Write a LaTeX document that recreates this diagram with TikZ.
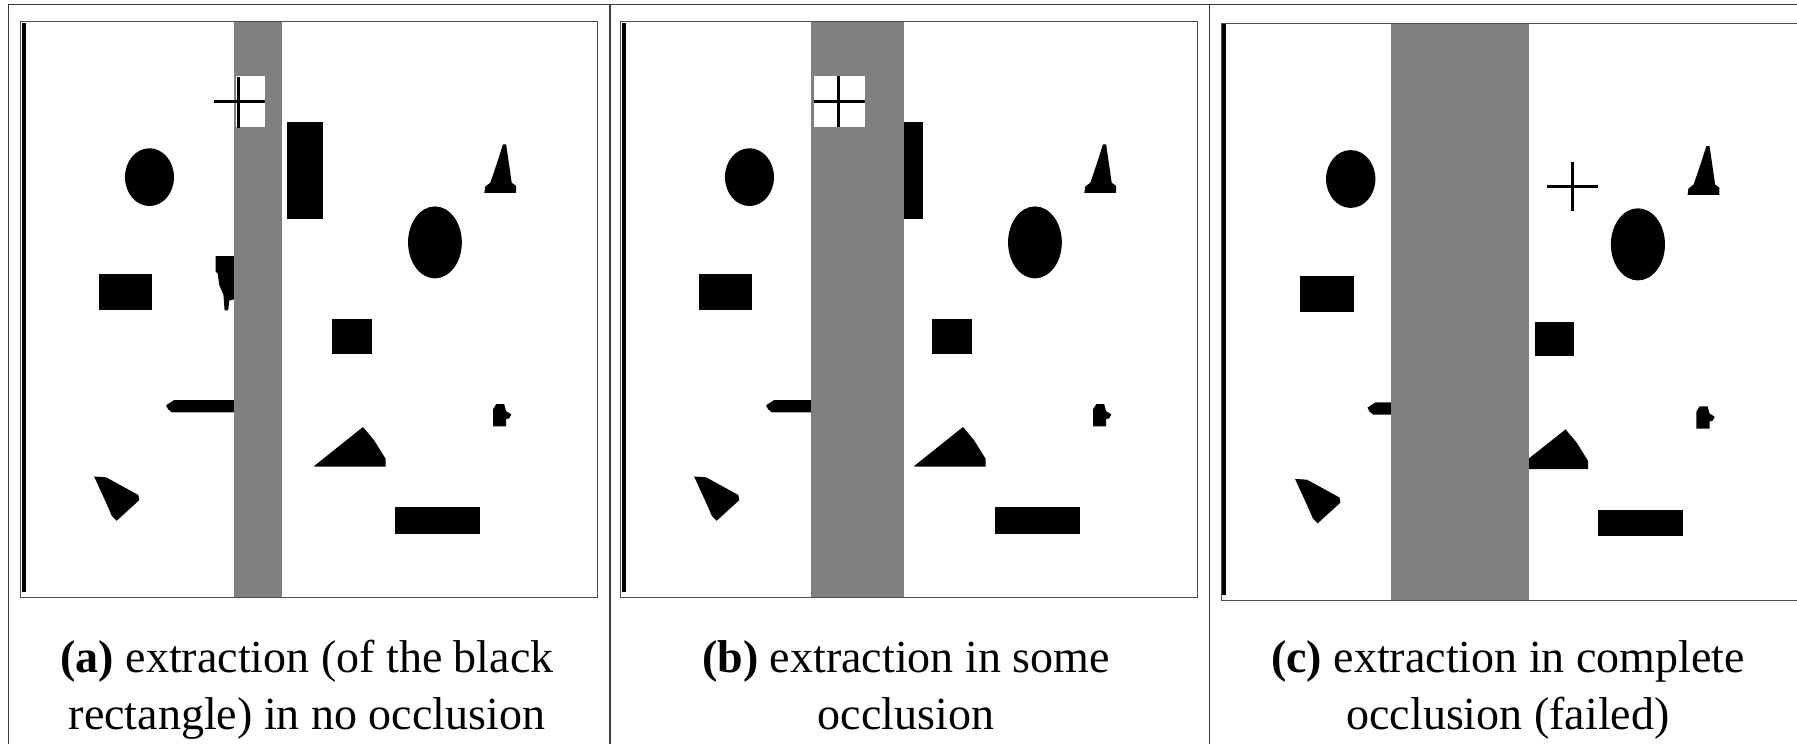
\documentclass[tikz,border=0pt]{standalone}
\usepackage{fontspec}
\setmainfont{Liberation Serif}
\definecolor{occgray}{RGB}{128,128,128}
\definecolor{rulegray}{RGB}{60,60,60}
\definecolor{boxgray}{RGB}{80,80,80}
\tikzset{
  tablerule/.style={draw=rulegray, line width=1.2pt},
  imgframe/.style={draw=boxgray, line width=1pt},
  occluder/.style={fill=occgray},
  crossline/.style={draw=black, line width=3pt},
  caption/.style={font=\fontsize{46}{57}\selectfont, inner sep=0pt, anchor=base},
  panel/.style={x=0.39541pt, y=-0.39541pt},
}
\newcommand{\occlshapes}{%
  \fill (378,448) ellipse [x radius=62, y radius=73];
  \fill (727,308) rectangle (816,555);
  \fill (1272,365) -- (1280,365) -- (1288,420) -- (1294,462) -- (1305,470) -- (1305,488)
        -- (1225,488) -- (1227,472) -- (1240,462) -- (1256,415) -- cycle;
  \fill (1100,613) ellipse [x radius=68, y radius=91];
  \fill (250,693) rectangle (385,783);
  \fill (545,648) -- (592,648) -- (592,757) -- (580,760) -- (577,785) -- (568,785)
        -- (565,745) -- (555,722) -- (550,690) -- (545,688) -- cycle;
  \fill (840,808) rectangle (940,895);
  \fill (420,1025) -- (440,1012) -- (592,1012) -- (592,1043) -- (435,1043) -- (425,1035) -- cycle;
  \fill (1255,1022) -- (1275,1022) -- (1280,1040) -- (1293,1048) -- (1288,1058) -- (1280,1060)
        -- (1280,1078) -- (1247,1078) -- (1247,1035) -- cycle;
  \fill (795,1178) -- (918,1080) -- (945,1112) -- (975,1160) -- (975,1180) -- (795,1180) -- cycle;
  \fill (1000,1283) rectangle (1213,1350);
  \fill (238,1205) -- (268,1207) -- (310,1230) -- (350,1252) -- (352,1265) -- (295,1317)
        -- (283,1305) -- (270,1275) -- cycle;
}
\begin{document}
\begin{tikzpicture}[x=1pt,y=-1pt]
\useasboundingbox (0,0) rectangle (1797,744);
\clip (0,0) rectangle (1797,744);
\fill[white] (0,0) rectangle (1797,744);
% table rules
\draw[tablerule] (8.7,744) -- (8.7,4.3) -- (1797,4.3);
\draw[tablerule] (610,4.3) -- (610,744);
\draw[tablerule] (1209.3,4.3) -- (1209.3,744);

% panel (a)
\begin{scope}[panel]
  \occlshapes
  \fill[occluder] (592,55) rectangle (714,1512);
  \fill[white] (597,192) rectangle (670,322);
  \draw[crossline] (542,256) -- (670,256);
  \draw[crossline] (603,194) -- (603,324);
  \fill (55,58) rectangle (67,1497);
  \draw[imgframe] (53,55) rectangle (1510,1512);
\end{scope}

% panel (b)
\begin{scope}[shift={(600,0)}, panel]
  \occlshapes
  \fill[occluder] (533,55) rectangle (768,1512);
  \fill[white] (540,192) rectangle (670,322);
  \draw[crossline] (540,256) -- (670,256);
  \draw[crossline] (603,192) -- (603,322);
  \fill (55,58) rectangle (67,1497);
  \draw[imgframe] (53,55) rectangle (1510,1512);
\end{scope}

% panel (c)
\begin{scope}[shift={(1200.35,1.5)}, x=0.3978pt, y=-0.3962pt]
  \occlshapes
  \fill[occluder] (478,55) rectangle (827,1512);
  \draw[crossline] (872,468) -- (1000,468);
  \draw[crossline] (935,406) -- (935,530);
  \fill (54,58) rectangle (65,1497);
  \draw[imgframe] (53,55) rectangle (1600,1512);
\end{scope}

% captions
\node[caption] (capa1) at (307,672) {\textbf{(a)} extraction (of the black};
\node[caption] (capa2) at (307,729) {rectangle) in no occlusion};
\node[caption] (capb1) at (906,672) {\textbf{(b)} extraction in some};
\node[caption] (capb2) at (906,729) {occlusion};
\node[caption] (capc1) at (1508,672) {\textbf{(c)} extraction in complete};
\node[caption] (capc2) at (1508,729) {occlusion (failed)};
\end{tikzpicture}
\end{document}
